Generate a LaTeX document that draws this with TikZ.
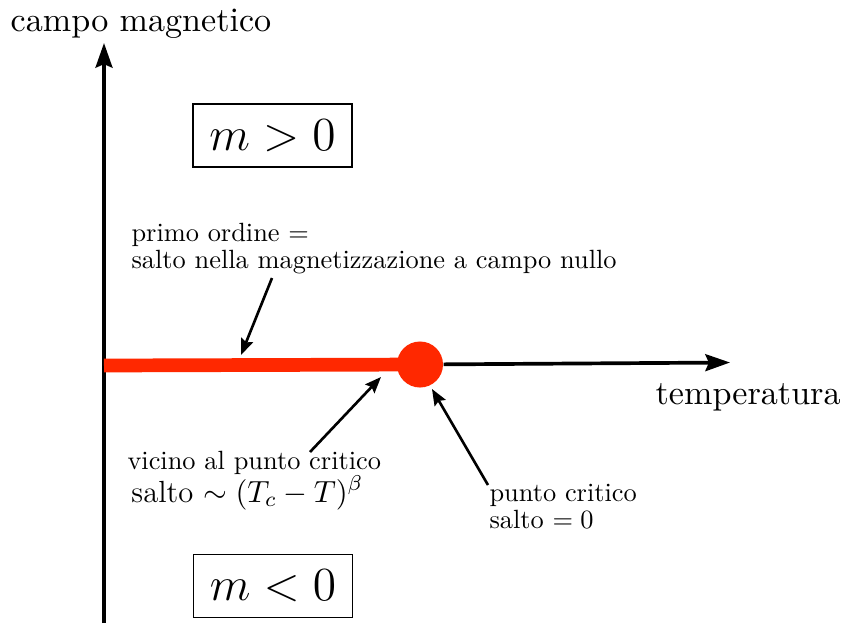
\documentclass[tikz,border=0pt]{standalone}
\usepackage{fix-cm}
\usetikzlibrary{arrows.meta}
\definecolor{salto}{RGB}{255,40,0}
\newcommand\notafont{\fontsize{10}{9.9}\selectfont\lineskiplimit=-10pt\relax}

\begin{document}
\begin{tikzpicture}[x=.01cm,y=-.01cm,
 asse/.style={line width=1.05pt,-{Stealth[length=7pt,width=4.8pt,inset=1pt]}},
 freccia/.style={line width=.75pt,-{Stealth[length=4.6pt,width=3.6pt,inset=.7pt]}},
 nota/.style={font=\notafont,align=left,inner sep=0pt,scale=.75,transform shape},
 etich/.style={font=\fontsize{10}{12}\selectfont,inner sep=0pt,scale=.97,transform shape},
 fase/.style={draw,line width=.5pt,minimum width=1.59cm,minimum height=.63cm,inner sep=0pt,font=\fontsize{13.5}{16}\selectfont}]
 \useasboundingbox (0,0) rectangle (841,623);
 % assi
 \coordinate (orig) at (104,365.5);
 \coordinate (basso) at (104,623);
 \coordinate (alto) at (104,43);
 \coordinate (destra) at (730,362.5);
 \draw[asse] (basso) -- (alto);
 \node[etich,anchor=base] (campo) at (141,31) {campo magnetico};
 \node[etich,anchor=base west] (temp) at (655,404) {temperatura};
 % linea di primo ordine e punto critico
 \coordinate (pc) at (420,364.5);
 \draw[salto,line width=3.9pt] (orig) -- (pc);
 \node[circle,fill=salto,minimum size=.46cm,inner sep=0pt] (crit) at (pc) {};
 \draw[asse] (crit) -- (destra);
 % fasi
 \node[fase] (su) at (272.5,135.5) {$m>0$};
 \node[fase] (giu) at (273,586) {$m<0$};
 % note
 \node[nota,anchor=base west] (ordine) at (131,268) {primo ordine $=$\\salto nella magnetizzazione a campo nullo};
 \node[nota,anchor=base west] (vicino) at (127,502) {vicino al punto critico\\[2.6pt]{\fontsize{11.6}{9.9}\selectfont\hspace*{1.5pt}salto $\sim (T_c-T)^\beta$}};
 \node[nota,anchor=base west] (punto) at (489,528) {punto critico\\salto $=0$};
 \coordinate (a1) at (272,278); \coordinate (b1) at (241,355);
 \coordinate (a2) at (310,452); \coordinate (b2) at (381,377);
 \coordinate (a3) at (488,485); \coordinate (b3) at (432,389);
 \draw[freccia] (a1) -- (b1);
 \draw[freccia] (a2) -- (b2);
 \draw[freccia] (a3) -- (b3);
\end{tikzpicture}
\end{document}
